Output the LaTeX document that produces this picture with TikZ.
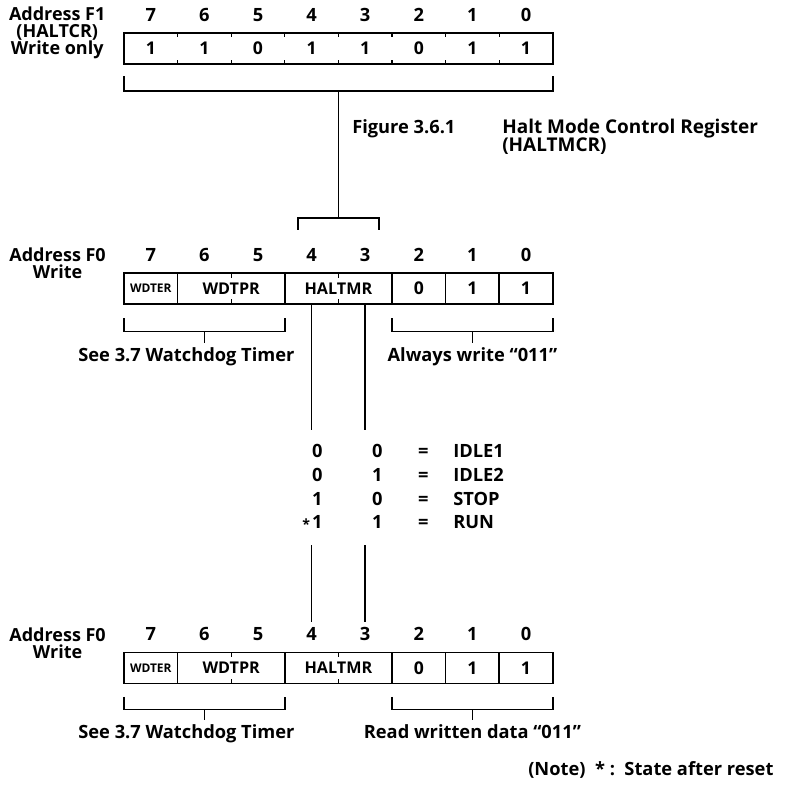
\documentclass[tikz,border=0pt]{standalone}
\usepackage{fontspec}
\setmainfont{Open Sans}
\usepackage{array}
\usetikzlibrary{positioning}

\begin{document}
\begin{tikzpicture}[
    bitcell/.style={rectangle, minimum width=1.34cm, minimum height=0.78cm,
                    inner sep=0pt, outer sep=0pt, font=\fontsize{12.5}{14}\selectfont\bfseries},
    bitnum/.style={inner sep=0pt, font=\fontsize{13}{16}\selectfont\bfseries},
    addr/.style={align=center, inner sep=0pt, font=\fontsize{12.8}{12.1}\selectfont\bfseries},
    field/.style={inner sep=0pt, font=\fontsize{11.5}{14}\selectfont\bfseries},
    caption/.style={inner sep=0pt, font=\fontsize{13}{16}\selectfont\bfseries},
    modetab/.style={inner sep=0pt, font=\fontsize{13}{16.8}\selectfont\bfseries},
    regframe/.style={line width=1.2pt},
    divider/.style={line width=1pt},
    tick/.style={line width=0.8pt},
    wire/.style={line width=1.1pt}
]
\useasboundingbox (0,0) rectangle (20.05,-19.825);

% --- HALTCR, address F1 ---
\node (craddr) [addr] at (1.43,-0.81) {Address F1\\(HALTCR)\\Write only};
\node (cr7) [bitcell] at (3.77,-1.2125) {1};
\node (cr6) [bitcell, right=0pt of cr7] {1};
\node (cr5) [bitcell, right=0pt of cr6] {0};
\node (cr4) [bitcell, right=0pt of cr5] {1};
\node (cr3) [bitcell, right=0pt of cr4] {1};
\node (cr2) [bitcell, right=0pt of cr3] {0};
\node (cr1) [bitcell, right=0pt of cr2] {1};
\node (cr0) [bitcell, right=0pt of cr1] {1};
\draw [regframe] (cr7.north west) rectangle (cr0.south east);
\foreach \c in {cr7,cr6,cr5,cr4,cr3,cr2,cr1} {
    \draw [tick] (\c.north east) -- ++(0,-0.1);
    \draw [tick] (\c.south east) -- ++(0,0.1);
}

% --- HALTMCR, write ---
\node (waddr) [addr] at (1.44,-6.57) {Address F0\\Write};
\node (w7) [bitcell] at (3.77,-7.2125) {\fontsize{8.5}{11}\selectfont WDTER};
\node (w6) [bitcell, right=0pt of w7] {};
\node (w5) [bitcell, right=0pt of w6] {};
\node (w4) [bitcell, right=0pt of w5] {};
\node (w3) [bitcell, right=0pt of w4] {};
\node (w2) [bitcell, right=0pt of w3] {0};
\node (w1) [bitcell, right=0pt of w2] {1};
\node (w0) [bitcell, right=0pt of w1] {1};
\draw [regframe] (w7.north west) rectangle (w0.south east);
\foreach \c in {w7,w5,w3,w2,w1} {
    \draw [divider] (\c.north east) -- (\c.south east);
}
\foreach \c in {w6,w4} {
    \draw [tick] (\c.north east) -- ++(0,-0.12);
    \draw [tick] (\c.south east) -- ++(0,0.12);
}
\node (wwdtpr) [field] at (w6.east) {WDTPR};
\node (whaltmr) [field] at (w4.east) {HALTMR};

% --- HALTMCR, read ---
\node (raddr) [addr] at (1.44,-16.07) {Address F0\\Write};
\node (r7) [bitcell] at (3.77,-16.7) {\fontsize{8.5}{11}\selectfont WDTER};
\node (r6) [bitcell, right=0pt of r7] {};
\node (r5) [bitcell, right=0pt of r6] {};
\node (r4) [bitcell, right=0pt of r5] {};
\node (r3) [bitcell, right=0pt of r4] {};
\node (r2) [bitcell, right=0pt of r3] {0};
\node (r1) [bitcell, right=0pt of r2] {1};
\node (r0) [bitcell, right=0pt of r1] {1};
\draw [regframe] (r7.north west) rectangle (r0.south east);
\foreach \c in {r7,r5,r3,r2,r1} {
    \draw [divider] (\c.north east) -- (\c.south east);
}
\foreach \c in {r6,r4} {
    \draw [tick] (\c.north east) -- ++(0,-0.12);
    \draw [tick] (\c.south east) -- ++(0,0.12);
}
\node (rwdtpr) [field] at (r6.east) {WDTPR};
\node (rhaltmr) [field] at (r4.east) {HALTMR};

% --- bit numbers ---
\foreach \reg in {cr,w,r}
    \foreach \n in {7,...,0}
        \node [bitnum, above=0.28cm of \reg\n] {\n};

% --- HALTCR feeds bits 4-3 ---
\coordinate (crfoot) at ([yshift=-0.675cm]cr4.south east);
\coordinate (wsel) at ([yshift=1.375cm]w4.north east);
\draw [wire] ([yshift=-0.3cm]cr7.south west) -- ([yshift=-0.675cm]cr7.south west)
    -- ([yshift=-0.675cm]cr0.south east) -- ([yshift=-0.3cm]cr0.south east);
\draw [wire] (crfoot) -- (wsel);
\draw [wire] ([xshift=-1.01cm,yshift=-0.3cm]wsel) -- ([xshift=-1.01cm]wsel)
    -- ([xshift=1.01cm]wsel) -- ([xshift=1.01cm,yshift=-0.3cm]wsel);

\node (figno) [caption, anchor=base west] at (8.8,-3.34) {Figure 3.6.1};
\node (figtitle) [caption, anchor=base west, font=\fontsize{13.5}{16}\selectfont\bfseries]
    at (12.55,-3.34) {Halt Mode Control Register};
\node (figabbr) [caption, anchor=base west, font=\fontsize{13.5}{16}\selectfont\bfseries]
    at ([yshift=-0.45cm]figtitle.base west) {(HALTMCR)};

% --- brackets under the write register ---
\coordinate (wwdt) at ([yshift=-0.68cm]w6.south);
\coordinate (wfix) at ([yshift=-0.68cm]w1.south);
\draw [wire] ([yshift=-0.35cm]w7.south west) -- ([yshift=-0.68cm]w7.south west)
    -- ([yshift=-0.68cm]w5.south east) -- ([yshift=-0.35cm]w5.south east);
\draw [wire] ([yshift=-0.35cm]w2.south west) -- ([yshift=-0.68cm]w2.south west)
    -- ([yshift=-0.68cm]w0.south east) -- ([yshift=-0.35cm]w0.south east);
\node (wwdtnote) [caption, below=0.4cm of wwdt, xshift=-0.45cm] {See 3.7 Watchdog Timer};
\node (wfixnote) [caption, below=0.4cm of wfix] {Always write “011”};
\draw [wire] (wwdt) -- ([yshift=0.12cm]wwdt |- wwdtnote.north);
\draw [wire] (wfix) -- ([yshift=0.12cm]wfixnote.north);

% --- HALTMR modes ---
\node (modes) [modetab, anchor=north west] at (7.425,-11.025) {%
    \begin{tabular}{@{}w{c}{1cm}@{}w{c}{2cm}@{}w{c}{0.3cm}@{\hspace{0.6cm}}l@{}}
    0 & 0 & = & IDLE1 \\
    0 & 1 & = & IDLE2 \\
    1 & 0 & = & STOP \\
    \llap{\raisebox{-0.5pt}{\fontsize{10}{10}\selectfont *}\kern1.5pt}1 & 1 & = & RUN
    \end{tabular}};
\coordinate (modetop) at ([yshift=0.275cm]modes.north);
\coordinate (modebot) at ([yshift=-0.23cm]modes.south);
\draw [wire] (w4.south) -- (w4.south |- modetop);
\draw [wire] (w3.south) -- (w3.south |- modetop);
\draw [wire] (w4.south |- modebot) -- ([yshift=0.75cm]r4.north);
\draw [wire] (w3.south |- modebot) -- ([yshift=0.75cm]r3.north);

% --- brackets under the read register ---
\coordinate (rwdt) at ([yshift=-0.65cm]r6.south);
\coordinate (rfix) at ([yshift=-0.65cm]r1.south);
\draw [wire] ([yshift=-0.33cm]r7.south west) -- ([yshift=-0.65cm]r7.south west)
    -- ([yshift=-0.65cm]r5.south east) -- ([yshift=-0.33cm]r5.south east);
\draw [wire] ([yshift=-0.33cm]r2.south west) -- ([yshift=-0.65cm]r2.south west)
    -- ([yshift=-0.65cm]r0.south east) -- ([yshift=-0.33cm]r0.south east);
\node (rwdtnote) [caption, below=0.38cm of rwdt, xshift=-0.45cm] {See 3.7 Watchdog Timer};
\node (rfixnote) [caption, below=0.38cm of rfix] {Read written data “011”};
\draw [wire] (rwdt) -- ([yshift=0.12cm]rwdt |- rwdtnote.north);
\draw [wire] (rfix) -- ([yshift=0.12cm]rfixnote.north);

\node (note) [caption, anchor=base west] at (13.2,-19.39) {(Note)\ \ *\ :\ \ State after reset};
\end{tikzpicture}
\end{document}
